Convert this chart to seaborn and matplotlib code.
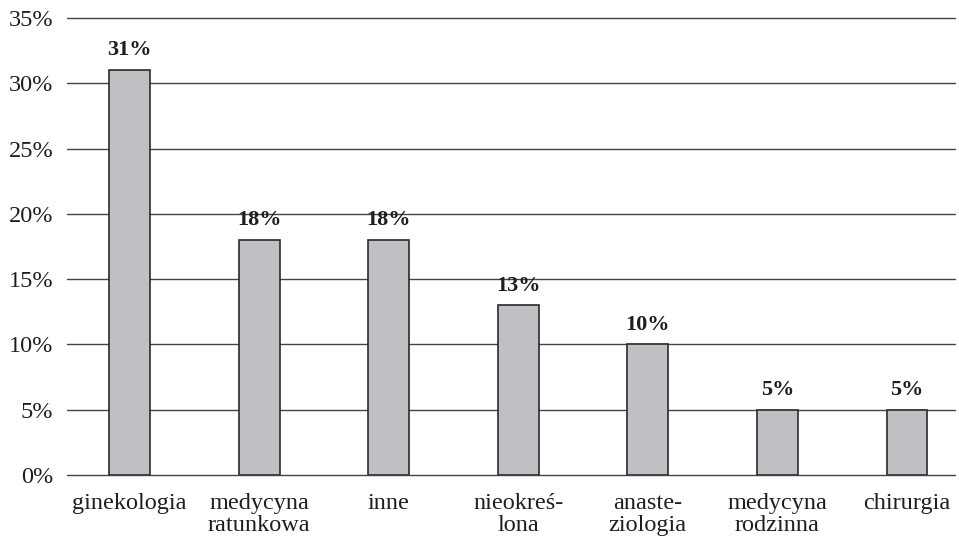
import matplotlib
matplotlib.use("Agg")
import matplotlib.pyplot as plt
import seaborn as sns
import pandas as pd

categories = ["ginekologia", "medycyna\nratunkowa", "inne", "nieokreś-\nlona",
              "anaste-\nziologia", "medycyna\nrodzinna", "chirurgia"]
shares = [31, 18, 18, 13, 10, 5, 5]
y_ticks = [0, 5, 10, 15, 20, 25, 30, 35]
y_tick_labels = [f"{t}%" for t in y_ticks]

df = pd.DataFrame({"spec": categories, "share": shares})

sns.set_theme(style="white")
plt.rcParams["font.family"] = ["Liberation Serif", "DejaVu Serif"]

fig = plt.figure(figsize=(9.59, 5.4), dpi=100)
ax = fig.add_axes([0.0699, 0.1204, 0.9259, 0.8463])

sns.barplot(data=df, x="spec", y="share", color="#bfc0c4", saturation=1,
            edgecolor="#2a2a2a", linewidth=1.2, width=0.316, ax=ax, zorder=3)

ax.set_ylim(0, 35)
ax.set_xlim(-0.482, 6.37)
ax.set_yticks(y_ticks)
ax.set_yticklabels(y_tick_labels, fontsize=17.5, color="#1e1e1e")
ax.tick_params(axis="x", labelsize=17.5, colors="#1e1e1e", length=0, pad=13)
ax.tick_params(axis="y", length=0, pad=10)
for lbl in ax.get_xticklabels():
    lbl.set_linespacing(1.08)
ax.yaxis.grid(True, color="#444444", linewidth=1.0)
for gl in ax.get_ygridlines():
    gl.set_clip_on(False)
ax.set_axisbelow(True)
for s in ax.spines.values():
    s.set_visible(False)
ax.set_xlabel("")
ax.set_ylabel("")

ax.bar_label(ax.containers[0], labels=[f"{v}%" for v in shares], padding=7,
             fontsize=16, fontweight="bold", color="#1e1e1e")

fig.savefig("out.png", dpi=100)
